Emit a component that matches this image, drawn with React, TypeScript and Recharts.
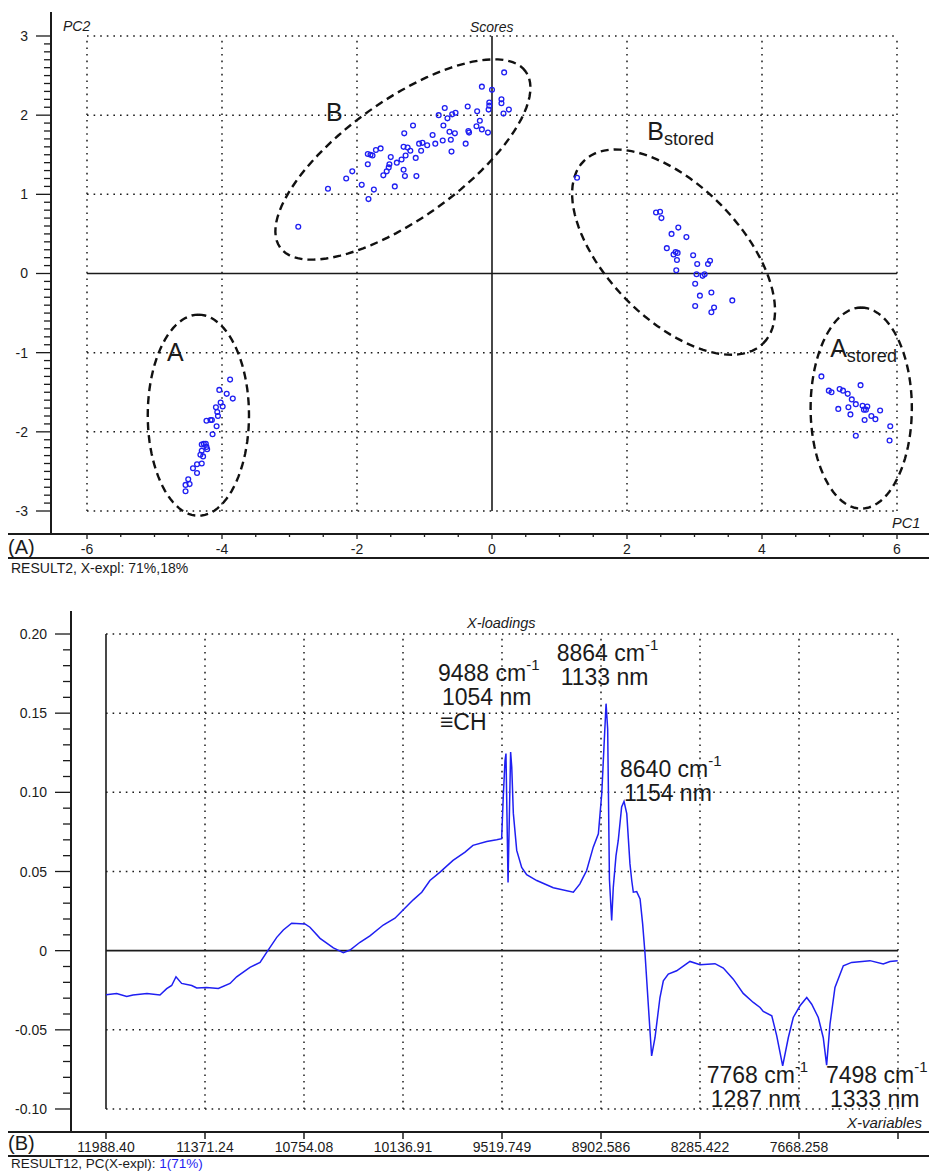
import React from "react";
import {
  ScatterChart,
  Scatter,
  ComposedChart,
  Line,
  XAxis,
  YAxis,
  ReferenceLine,
  ReferenceDot,
} from "recharts";

const FONT = '"Liberation Sans", Arial, Helvetica, sans-serif';
const INK = "#1b1b1b";
const BLUE = "#1f1ff2";
const DOTS = "1.6 5";

// ---------- (A) PCA scores ----------
const scoresA = [
  [-3.88, -1.34], [-4.04, -1.47], [-3.93, -1.52], [-3.84, -1.58], [-4.02, -1.63],
  [-3.99, -1.68], [-4.09, -1.69], [-4.07, -1.75], [-4.06, -1.8], [-4.23, -1.86],
  [-4.17, -1.85], [-4.15, -1.85], [-4.08, -1.93], [-4.14, -2.03], [-4.3, -2.16],
  [-4.27, -2.15], [-4.24, -2.15], [-4.23, -2.19], [-4.22, -2.22], [-4.3, -2.24],
  [-4.28, -2.31], [-4.32, -2.29], [-4.3, -2.4], [-4.37, -2.41], [-4.43, -2.46],
  [-4.37, -2.52], [-4.5, -2.6], [-4.48, -2.66], [-4.54, -2.67], [-4.54, -2.75],
];

const scoresB = [
  [-2.87, 0.59], [-2.43, 1.07], [-2.16, 1.2], [-2.07, 1.29], [-1.93, 1.12],
  [-1.83, 0.94], [-1.75, 1.06], [-1.84, 1.38], [-1.84, 1.51], [-1.8, 1.5],
  [-1.77, 1.49], [-1.72, 1.56], [-1.65, 1.58], [-1.61, 1.24], [-1.56, 1.29],
  [-1.53, 1.34], [-1.52, 1.38], [-1.5, 1.47], [-1.44, 1.1], [-1.41, 1.4],
  [-1.34, 1.44], [-1.31, 1.31], [-1.29, 1.23], [-1.31, 1.6], [-1.3, 1.77],
  [-1.28, 1.49], [-1.25, 1.59], [-1.21, 1.55], [-1.17, 1.87], [-1.13, 1.46],
  [-1.12, 1.23], [-1.08, 1.64], [-1.05, 1.55], [-1.03, 1.65], [-0.96, 1.62],
  [-0.88, 1.75], [-0.84, 1.64], [-0.79, 2.0], [-0.73, 1.68], [-0.72, 1.87],
  [-0.7, 2.09], [-0.66, 1.96], [-0.63, 1.79], [-0.61, 1.69], [-0.59, 2.01],
  [-0.6, 1.54], [-0.55, 1.77], [-0.54, 2.03], [-0.39, 1.64], [-0.36, 2.11],
  [-0.35, 1.8], [0.18, 2.54], [-0.15, 2.36], [0.0, 2.32], [-0.22, 2.05],
  [-0.18, 1.93], [-0.23, 1.86], [-0.15, 1.82], [-0.06, 1.78], [-0.34, 1.78],
  [-0.04, 2.16], [-0.04, 2.12], [-0.05, 2.07], [0.14, 2.2], [0.14, 2.15],
  [0.17, 2.02], [0.25, 2.07],
];

const scoresBStored = [
  [1.26, 1.21], [2.43, 0.77], [2.49, 0.78], [2.51, 0.7], [2.76, 0.58],
  [2.66, 0.5], [2.88, 0.46], [2.59, 0.32], [2.69, 0.24], [2.72, 0.27],
  [2.75, 0.26], [2.74, 0.17], [2.73, 0.04], [2.98, 0.23], [3.04, 0.12],
  [3.2, 0.12], [3.23, 0.16], [3.03, -0.01], [3.12, -0.03], [3.15, -0.01],
  [3.01, -0.13], [3.08, -0.28], [3.25, -0.24], [3.56, -0.34], [3.01, -0.41],
  [3.29, -0.43], [3.25, -0.49],
];

const scoresAStored = [
  [4.88, -1.3], [4.99, -1.48], [5.03, -1.5], [5.15, -1.46], [5.2, -1.48],
  [5.27, -1.52], [5.46, -1.41], [5.33, -1.59], [5.39, -1.65], [5.49, -1.67],
  [5.56, -1.68], [5.51, -1.72], [5.54, -1.72], [5.28, -1.69], [5.13, -1.71],
  [5.31, -1.78], [5.75, -1.73], [5.62, -1.8], [5.68, -1.84], [5.52, -1.85],
  [5.9, -1.93], [5.39, -2.05], [5.89, -2.11],
];

// group ellipses: centre and the two semi-axis vectors (PC1, PC2 units)
const groupEllipses = [
  { cx: -4.35, cy: -1.79, ux: 0, uy: 1.27, vx: 0.75, vy: 0 },
  { cx: -1.32, cy: 1.44, ux: 1.82, uy: 1.11, vx: -0.508, vy: 0.608 },
  { cx: 2.69, cy: 0.27, ux: 1.327, uy: -1.153, vx: 0.706, vy: 0.593 },
  { cx: 5.47, cy: -1.7, ux: 0, uy: 1.27, vx: 0.75, vy: 0 },
];

const groupNames = ["A", "B", "B", "A"];
const groupSubs = ["", "", "stored", "stored"];
const groupLabelPC1 = [-4.815, -2.46, 2.3, 5.01];
const groupLabelPC2 = [-1.11, 1.92, 1.68, -1.06];

const scoreXTicks = [-6, -4, -2, 0, 2, 4, 6];
const scoreYTicks = [-3, -2, -1, 0, 1, 2, 3];

// ---------- (B) X-loadings ----------
const wavenumbers = [
  11988, 11922, 11859, 11820, 11733, 11652, 11610, 11579, 11552, 11517,
  11454, 11423, 11361, 11288, 11215, 11174, 11091, 11028, 10987, 10924,
  10883, 10831, 10748, 10717, 10654, 10571, 10509, 10467, 10405, 10343,
  10260, 10187, 10135, 10073, 10020, 9969, 9906, 9825, 9750, 9701,
  9615, 9553, 9522, 9512, 9501, 9495, 9482, 9466, 9459, 9449,
  9428, 9397, 9366, 9303, 9200, 9075, 9034, 9013, 8992, 8951,
  8919, 8898, 8884, 8871, 8861, 8850, 8836, 8826, 8809, 8795,
  8774, 8759, 8742, 8722, 8711, 8701, 8680, 8659, 8643, 8628,
  8608, 8587, 8566, 8535, 8514, 8483, 8431, 8348, 8285, 8192,
  8140, 8078, 8016, 7953, 7911, 7891, 7838, 7807, 7770, 7735,
  7704, 7662, 7620, 7589, 7548, 7517, 7496, 7475, 7444, 7392,
  7340, 7226, 7143, 7101, 7053,
];
const loadings = [
  -0.0278, -0.027, -0.029, -0.028, -0.027, -0.028, -0.024, -0.022, -0.0165, -0.0207,
  -0.022, -0.0236, -0.0232, -0.0239, -0.0207, -0.0165, -0.0105, -0.0074, -0.0011, 0.0084,
  0.0131, 0.0173, 0.0169, 0.0148, 0.0078, 0.0017, -0.0013, 0.0004, 0.0053, 0.0093,
  0.0162, 0.0205, 0.0258, 0.0321, 0.0369, 0.0443, 0.0496, 0.057, 0.0622, 0.0665,
  0.069, 0.07, 0.0707, 0.097, 0.12, 0.1245, 0.043, 0.1255, 0.116, 0.0867,
  0.0633, 0.0525, 0.048, 0.0443, 0.0397, 0.0369, 0.0422, 0.0464, 0.0506, 0.0654,
  0.0738, 0.099, 0.1287, 0.156, 0.14, 0.045, 0.019, 0.04, 0.06, 0.0696,
  0.0907, 0.0943, 0.0865, 0.0548, 0.0443, 0.0369, 0.0373, 0.0327, 0.0169, -0.0021,
  -0.0337, -0.0665, -0.055, -0.0296, -0.019, -0.0148, -0.0127, -0.0068, -0.0089, -0.0082,
  -0.011, -0.018, -0.027, -0.0327, -0.0359, -0.0384, -0.0411, -0.0538, -0.0728, -0.055,
  -0.0422, -0.0348, -0.0296, -0.0338, -0.0422, -0.055, -0.0723, -0.0464, -0.0232, -0.0095,
  -0.0074, -0.0063, -0.0084, -0.0068, -0.0063,
];

const loadingXTicks = [11988.4, 11371.24, 10754.08, 10136.91, 9519.749, 8902.586, 8285.422, 7668.258, 7051.094];
const loadingXLabels = ["11988.40", "11371.24", "10754.08", "10136.91", "9519.749", "8902.586", "8285.422", "7668.258", ""];
const loadingYTicks = [-0.1, -0.05, 0, 0.05, 0.1, 0.15, 0.2];
const loadingYLabels = ["-0.10", "-0.05", "0", "0.05", "0.10", "0.15", "0.20"];

const peakCm = ["9488", "8864", "8640", "7768", "7498"];
const peakNm = ["1054", "1133", "1154", "1287", "1333"];
const peakNote = ["\u2261CH", "", "", "", ""];
const peakLabelWn = [9919, 9179, 8784, 8244, 7500];
const peakLabelLoading = [0.1705, 0.1831, 0.1094, -0.0834, -0.0834];

// ---------- derived ----------
const pts = (arr: number[][]) => arr.map(([x, y]) => ({ x, y }));
const ellipseOutline = (e: (typeof groupEllipses)[number]) =>
  Array.from({ length: 97 }, (_, i) => {
    const t = (i / 96) * 2 * Math.PI;
    return {
      x: e.cx + e.ux * Math.cos(t) + e.vx * Math.sin(t),
      y: e.cy + e.uy * Math.cos(t) + e.vy * Math.sin(t),
    };
  });
const steps = (from: number, to: number, step: number) => {
  const out: number[] = [];
  for (let v = from; v <= to + step / 2; v += step) out.push(Math.round(v * 1000) / 1000);
  return out;
};
const scoreXMinor = steps(-6, 6, 0.5);
const scoreYMinor = steps(-3, 3, 0.1);
const loadingYMinor = steps(-0.1, 0.2, 0.01);
const spectrum = wavenumbers.map((wn, i) => ({ wn, loading: loadings[i] }));
const near = (a: number, b: number) => Math.abs(a - b) < 1e-6;

const Ring = (p: any) => (
  <circle cx={p.cx} cy={p.cy} r={2.4} fill="none" stroke={BLUE} strokeWidth={1.3} />
);
const Nothing = () => <g />;

function ScoreYTick(p: any) {
  const v = p.payload.value;
  const major = scoreYTicks.some((t) => near(t, v));
  return (
    <g>
      <line x1={major ? 36 : 44} x2={51} y1={p.y} y2={p.y} stroke={INK} strokeWidth={1.3} />
      {major && (
        <text x={28} y={p.y + 5} textAnchor="end" fontSize={14} fontFamily={FONT} fill={INK}>
          {v}
        </text>
      )}
    </g>
  );
}

function ScoreXTick(p: any) {
  const v = p.payload.value;
  const major = scoreXTicks.some((t) => near(t, v));
  return (
    <g>
      <line x1={p.x} x2={p.x} y1={534} y2={major ? 539 : 537} stroke={INK} strokeWidth={1.3} />
      {major && (
        <text x={p.x} y={554} textAnchor="middle" fontSize={14} fontFamily={FONT} fill={INK}>
          {v}
        </text>
      )}
    </g>
  );
}

function LoadingYTick(p: any) {
  const v = p.payload.value;
  const i = loadingYTicks.findIndex((t) => near(t, v));
  return (
    <g>
      <line x1={i >= 0 ? 55 : 63} x2={71} y1={p.y} y2={p.y} stroke={INK} strokeWidth={1.3} />
      {i >= 0 && (
        <text x={47} y={p.y + 5} textAnchor="end" fontSize={14} fontFamily={FONT} fill={INK}>
          {loadingYLabels[i]}
        </text>
      )}
    </g>
  );
}

function LoadingXTick(p: any) {
  const i = loadingXTicks.findIndex((t) => near(t, p.payload.value));
  return (
    <g>
      <line x1={p.x} x2={p.x} y1={542} y2={549} stroke={INK} strokeWidth={1.5} />
      <text x={p.x} y={562} textAnchor="middle" fontSize={14} fontFamily={FONT} fill={INK}>
        {loadingXLabels[i]}
      </text>
    </g>
  );
}

function GroupLabel({ cx, cy, name, sub }: any) {
  return (
    <text x={cx} y={cy} fontSize={25} fontFamily={FONT} fill={INK}>
      {name}
      {sub && (
        <tspan fontSize={18} dy={5}>
          {sub}
        </tspan>
      )}
    </text>
  );
}

function PeakLabel({ cx, cy, cm, nm, note }: any) {
  return (
    <g fontFamily={FONT} fill={INK}>
      <text x={cx} y={cy} fontSize={23}>
        {cm} cm
        <tspan fontSize={15} dy={-11}>-1</tspan>
      </text>
      <text x={cx + 4} y={cy + 24} fontSize={23}>
        {nm} nm
      </text>
      {note && (
        <text x={cx + 2} y={cy + 49} fontSize={23}>
          {note}
        </text>
      )}
    </g>
  );
}

const frame = (top: number, left: number, width: number, height: number) => (
  <div style={{ position: "absolute", top, left, width, height, background: INK }} />
);
const note = (top: number, left: number, size: number, text: React.ReactNode, italic = false) => (
  <div
    style={{
      position: "absolute",
      top,
      left,
      fontSize: size,
      fontStyle: italic ? "italic" : "normal",
      lineHeight: 1,
      whiteSpace: "nowrap",
      color: INK,
    }}
  >
    {text}
  </div>
);

export default function App() {
  return (
    <div style={{ position: "absolute", left: 0, top: 0, width: 929, height: 1171, background: "#fff", fontFamily: FONT, overflow: "hidden" }}>
      {/* (A) scores plot */}
      <div style={{ position: "absolute", left: 0, top: 0 }}>
        <ScatterChart width={929} height={590} margin={{ top: 12, right: 0, bottom: 0, left: 0 }}>
          <XAxis
            type="number"
            dataKey="x"
            domain={[-6.5333, 6.4741]}
            allowDataOverflow
            ticks={scoreXMinor}
            interval={0}
            height={56}
            axisLine={false}
            tickLine={false}
            tick={<ScoreXTick />}
          />
          <YAxis
            type="number"
            dataKey="y"
            domain={[-3.2905, 3.3031]}
            allowDataOverflow
            ticks={scoreYMinor}
            interval={0}
            width={51}
            axisLine={false}
            tickLine={false}
            tick={<ScoreYTick />}
          />
          {scoreXTicks.filter((v) => v !== 0).map((v) => (
            <ReferenceLine key={"gx" + v} segment={[{ x: v, y: -3 }, { x: v, y: 3 }]} stroke={INK} strokeWidth={1.5} strokeDasharray={DOTS} />
          ))}
          {scoreYTicks.filter((v) => v !== 0).map((v) => (
            <ReferenceLine key={"gy" + v} segment={[{ x: -6, y: v }, { x: 6, y: v }]} stroke={INK} strokeWidth={1.5} strokeDasharray={DOTS} />
          ))}
          <ReferenceLine segment={[{ x: 0, y: -3 }, { x: 0, y: 3 }]} stroke={INK} strokeWidth={1.6} />
          <ReferenceLine segment={[{ x: -6, y: 0 }, { x: 6, y: 0 }]} stroke={INK} strokeWidth={1.6} />
          {groupEllipses.map((e, i) => (
            <Scatter
              key={"el" + i}
              data={ellipseOutline(e)}
              line={{ stroke: "#111", strokeWidth: 2.4, strokeDasharray: "8 5" }}
              shape={Nothing}
              isAnimationActive={false}
            />
          ))}
          <Scatter data={pts(scoresA)} shape={Ring} isAnimationActive={false} />
          <Scatter data={pts(scoresB)} shape={Ring} isAnimationActive={false} />
          <Scatter data={pts(scoresBStored)} shape={Ring} isAnimationActive={false} />
          <Scatter data={pts(scoresAStored)} shape={Ring} isAnimationActive={false} />
          {groupNames.map((n, i) => (
            <ReferenceDot
              key={"gl" + i}
              x={groupLabelPC1[i]}
              y={groupLabelPC2[i]}
              r={0}
              shape={(p: any) => <GroupLabel cx={p.cx} cy={p.cy} name={n} sub={groupSubs[i]} />}
            />
          ))}
        </ScatterChart>
      </div>

      {/* (B) loadings plot */}
      <div style={{ position: "absolute", left: 0, top: 590 }}>
        <ComposedChart width={929} height={581} data={spectrum} margin={{ top: 21, right: 0, bottom: 0, left: 0 }}>
          <XAxis
            type="number"
            dataKey="wn"
            domain={[6857.84, 12206.59]}
            reversed
            allowDataOverflow
            ticks={loadingXTicks}
            interval={0}
            height={39}
            axisLine={false}
            tickLine={false}
            tick={<LoadingXTick />}
          />
          <YAxis
            type="number"
            domain={[-0.11453, 0.21453]}
            allowDataOverflow
            ticks={loadingYMinor}
            interval={0}
            width={71}
            axisLine={false}
            tickLine={false}
            tick={<LoadingYTick />}
          />
          {loadingXTicks.slice(1).map((v) => (
            <ReferenceLine key={"lx" + v} segment={[{ x: v, y: -0.1 }, { x: v, y: 0.2 }]} stroke={INK} strokeWidth={1.5} strokeDasharray={DOTS} />
          ))}
          {loadingYTicks.filter((v) => v !== 0).map((v) => (
            <ReferenceLine key={"ly" + v} segment={[{ x: 11988.4, y: v }, { x: 7051.094, y: v }]} stroke={INK} strokeWidth={1.5} strokeDasharray={DOTS} />
          ))}
          <ReferenceLine segment={[{ x: 11988.4, y: -0.1 }, { x: 11988.4, y: 0.2 }]} stroke={INK} strokeWidth={1.6} />
          <ReferenceLine segment={[{ x: 11988.4, y: 0 }, { x: 7051.094, y: 0 }]} stroke={INK} strokeWidth={1.6} />
          <Line type="linear" dataKey="loading" stroke={BLUE} strokeWidth={1.5} dot={false} isAnimationActive={false} />
          {peakCm.map((cm, i) => (
            <ReferenceDot
              key={"pk" + i}
              x={peakLabelWn[i]}
              y={peakLabelLoading[i]}
              r={0}
              shape={(p: any) => <PeakLabel cx={p.cx} cy={p.cy} cm={cm} nm={peakNm[i]} note={peakNote[i]} />}
            />
          ))}
        </ComposedChart>
      </div>

      {/* frames, panel titles and captions */}
      {frame(12, 50, 2, 523)}
      {frame(533, 8, 921, 2)}
      {frame(557, 8, 921, 2)}
      {frame(611, 70, 2, 522)}
      {frame(1131, 8, 921, 2)}
      {frame(1155, 8, 921, 2)}

      {note(19, 63, 14, "PC2", true)}
      {note(20, 470, 14, "Scores", true)}
      {note(516, 892, 14.5, "PC1", true)}
      {note(537, 8, 20, "(A)")}
      {note(561, 11, 14, "RESULT2, X-expl: 71%,18%")}

      {note(616, 467, 14.5, "X-loadings", true)}
      {note(1115, 847, 15, "X-variables", true)}
      {note(1133, 8, 20, "(B)")}
      {note(1157, 11, 13.5, <>RESULT12, PC(X-expl): <span style={{ color: BLUE }}>1(71%)</span></>)}
    </div>
  );
}
